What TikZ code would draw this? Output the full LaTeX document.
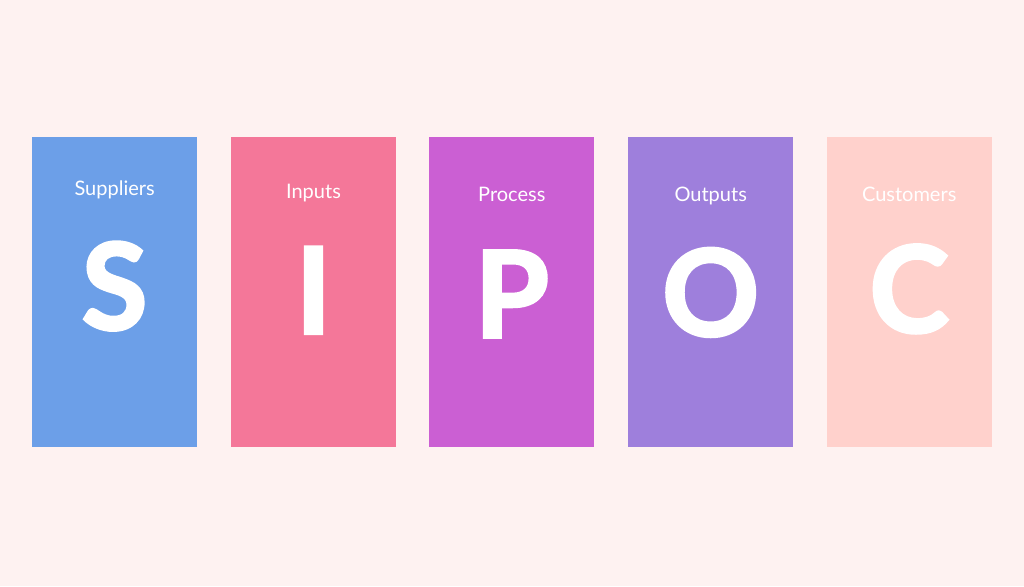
\documentclass[tikz,border=0pt]{standalone}
\usepackage{fontspec}
\setmainfont{Lato}
\newfontfamily\letterfont[BoldFeatures={FakeBold=2.5}]{Lato}
\usepackage{tikz}
\usepackage{xcolor}

\definecolor{bgpink}{HTML}{FEF2F1}
\definecolor{supblue}{HTML}{6C9FE8}
\definecolor{inpink}{HTML}{F47799}
\definecolor{procmag}{HTML}{CB5FD3}
\definecolor{outpurple}{HTML}{9E7FDC}
\definecolor{custpeach}{HTML}{FFD1CC}

\tikzset{
    stage/.style={rectangle, minimum width=165pt, minimum height=310pt, inner sep=0pt},
    stagelabel/.style={anchor=base, text=white, font=\fontsize{20}{20}\selectfont},
    stageletter/.style={anchor=base, text=white, font=\letterfont\fontsize{120}{120}\selectfont\bfseries}
}

\begin{document}
\begin{tikzpicture}[x=1pt,y=-1pt]
    % Background and page size
    \fill[bgpink] (0,0) rectangle (1024,586);
    \useasboundingbox (0,0) rectangle (1024,586);

    % The five SIPOC columns
    \foreach \name/\cx/\col/\word/\lb/\letter/\bb in {
        sup/114.6/supblue/Suppliers/195.7/S/329.5,
        inp/313.5/inpink/Inputs/198.3/I/333.7,
        proc/511.8/procmag/Process/201/P/337.3,
        out/710.7/outpurple/Outputs/201/O/335.8,
        cust/909.2/custpeach/Customers/201/C/332.3}
    {
        \node[stage, fill=\col] (\name) at (\cx,292.3) {};
        \node[stagelabel] (\name-word) at (\cx,\lb) {\word};
        \node[stageletter] (\name-letter) at (\cx,\bb) {\letter};
    }
\end{tikzpicture}
\end{document}
